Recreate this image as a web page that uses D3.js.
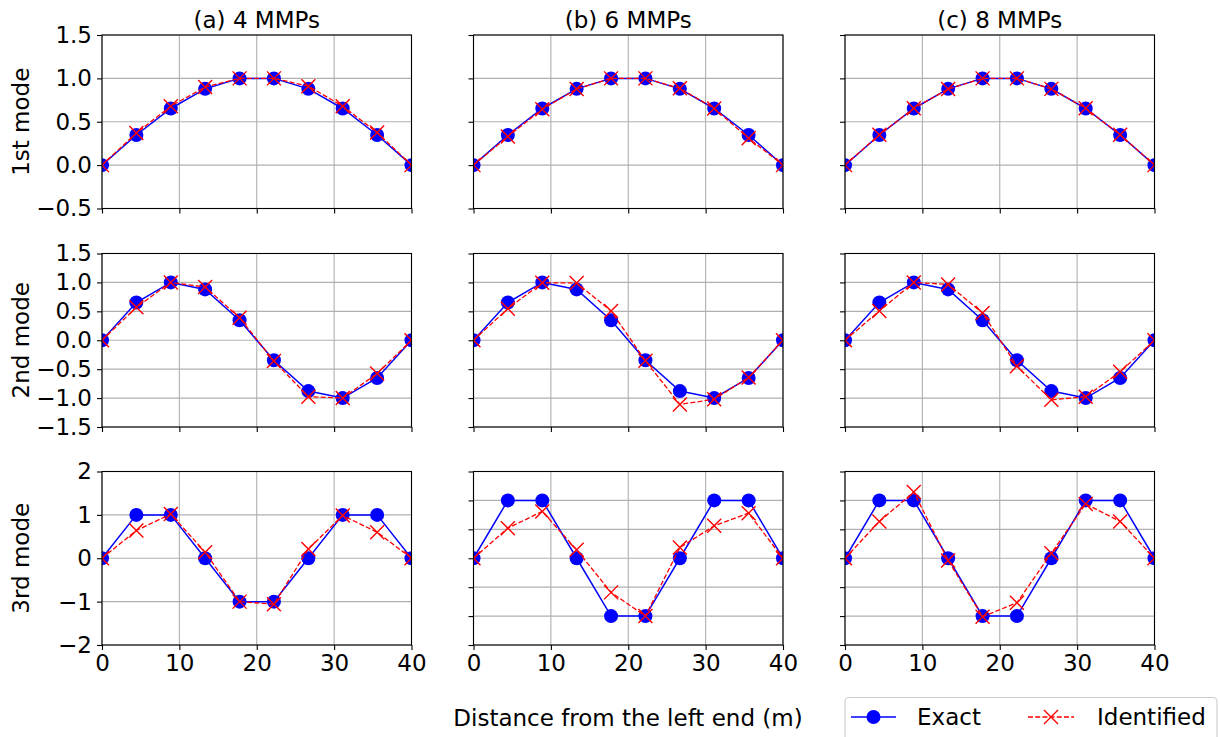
<!DOCTYPE html>
<html>
<head>
<meta charset="utf-8">
<script src="https://cdn.jsdelivr.net/npm/d3@7"></script>
<style>
  body { margin: 0; background: #fff; }
  svg { display: block; font-family: "DejaVu Sans", sans-serif; }
</style>
</head>
<body>
<svg id="chart" width="1220" height="737"></svg>
<script>
// node positions along the beam (m)
const nodeX = [0, 4.44, 8.89, 13.33, 17.78, 22.22, 26.67, 31.11, 35.56, 40];

// exact mode shapes
const exactMode1 = [0, 0.347, 0.653, 0.879, 1.0, 1.0, 0.879, 0.653, 0.347, 0];
const exactMode2 = [0, 0.653, 1.0, 0.879, 0.347, -0.347, -0.879, -1.0, -0.653, 0];
const exactMode3 = [0, 1.0, 1.0, 0, -1.0, -1.0, 0, 1.0, 1.0, 0];

// identified mode shapes, 4 MMPs
const ident4Mode1 = [0, 0.37, 0.68, 0.90, 1.0, 1.0, 0.91, 0.68, 0.375, 0];
const ident4Mode2 = [0, 0.57, 1.0, 0.92, 0.39, -0.36, -0.975, -1.0, -0.575, 0];
const ident4Mode3 = [0, 0.64, 1.02, 0.14, -1.0, -1.06, 0.215, 0.985, 0.6, 0];

// identified mode shapes, 6 MMPs
const ident6Mode1 = [0, 0.33, 0.645, 0.877, 1.0, 1.0, 0.885, 0.654, 0.31, 0];
const ident6Mode2 = [0, 0.546, 0.995, 0.99, 0.506, -0.356, -1.11, -1.02, -0.644, 0];
const ident6Mode3 = [0, 0.52, 0.81, 0.145, -0.59, -1.0, 0.185, 0.56, 0.78, 0];

// identified mode shapes, 8 MMPs
const ident8Mode1 = [0, 0.35, 0.655, 0.877, 1.0, 1.0, 0.879, 0.655, 0.35, 0];
const ident8Mode2 = [0, 0.506, 1.0, 0.966, 0.47, -0.448, -1.03, -0.977, -0.546, 0];
const ident8Mode3 = [0, 0.636, 1.145, -0.04, -1.01, -0.77, 0.087, 0.94, 0.636, 0];

const colTitles = ['(a) 4 MMPs', '(b) 6 MMPs', '(c) 8 MMPs'];
const rowLabels = ['1st mode', '2nd mode', '3rd mode'];
const xTicks = [0, 10, 20, 30, 40];

const exactRows = [exactMode1, exactMode2, exactMode3];
const identGrid = [
    [ident4Mode1, ident6Mode1, ident8Mode1],
    [ident4Mode2, ident6Mode2, ident8Mode2],
    [ident4Mode3, ident6Mode3, ident8Mode3]
];

// y ranges and ticks per panel [row][col]
const yDomains = [
    [[-0.5, 1.5], [-0.5, 1.5], [-0.5, 1.5]],
    [[-1.5, 1.5], [-1.5, 1.5], [-1.5, 1.5]],
    [[-2, 2], [-1.5, 1.5], [-1.5, 1.5]]
];
const yTickSteps = [[0.5, 0.5, 0.5], [0.5, 0.5, 0.5], [1, 0.5, 0.5]];

const colLeft = [102, 473.5, 845];
const rowTop = [35, 253.5, 471.5];
const panelW = 309.5;
const panelH = 173.5;

const FONT = 23;
const svg = d3.select('#chart');
const fmtMinus = s => s.replace('-', '\u2212');

for (let r = 0; r < 3; ++r) {
    for (let c = 0; c < 3; ++c) {
        let g = svg.append('g')
            .attr('transform', 'translate(' + colLeft[c] + ',' + rowTop[r] + ')');

        let x = d3.scaleLinear().domain([0, 40]).range([0, panelW]);
        let dom = yDomains[r][c];
        let y = d3.scaleLinear().domain(dom).range([panelH, 0]);
        let step = yTickSteps[r][c];
        let yTicks = d3.range(dom[0], dom[1] + step / 2, step);

        let clipId = 'clip-' + r + '-' + c;
        g.append('clipPath').attr('id', clipId)
            .append('rect').attr('width', panelW).attr('height', panelH);

        // Grid
        g.selectAll('.gx').data(xTicks).enter().append('line')
            .attr('x1', d => x(d)).attr('x2', d => x(d))
            .attr('y1', 0).attr('y2', panelH)
            .style('stroke', '#b0b0b0').style('stroke-width', 1.1);
        g.selectAll('.gy').data(yTicks).enter().append('line')
            .attr('x1', 0).attr('x2', panelW)
            .attr('y1', d => y(d)).attr('y2', d => y(d))
            .style('stroke', '#b0b0b0').style('stroke-width', 1.1);

        let plot = g.append('g').attr('clip-path', 'url(#' + clipId + ')');
        let line = d3.line().x((d, i) => x(nodeX[i])).y(d => y(d));

        // Exact
        plot.append('path').datum(exactRows[r])
            .attr('d', line)
            .style('fill', 'none').style('stroke', '#0000ff').style('stroke-width', 1.5);
        plot.selectAll('.dots').data(exactRows[r]).enter().append('circle')
            .attr('cx', (d, i) => x(nodeX[i])).attr('cy', d => y(d))
            .attr('r', 7).style('fill', '#0000ff');

        // Identified
        let ident = identGrid[r][c];
        plot.append('path').datum(ident)
            .attr('d', line)
            .style('fill', 'none').style('stroke', '#ff0000').style('stroke-width', 1.3)
            .style('stroke-dasharray', '5,2.2');
        plot.selectAll('.cross').data(ident).enter().append('path')
            .attr('transform', (d, i) => 'translate(' + x(nodeX[i]) + ',' + y(d) + ')')
            .attr('d', 'M-7,-7L7,7M-7,7L7,-7')
            .style('stroke', '#ff0000').style('stroke-width', 1.4);

        // Axes
        let xAxis = d3.axisBottom(x).tickValues(xTicks).tickSize(5).tickSizeOuter(0).tickPadding(5);
        let gx = g.append('g').attr('transform', 'translate(0,' + panelH + ')').call(xAxis);
        let yAxis = d3.axisLeft(y).tickValues(yTicks).tickSize(5).tickSizeOuter(0).tickPadding(5)
            .tickFormat(d => fmtMinus(r === 2 && c === 0 ? d3.format('d')(d) : d3.format('.1f')(d)));
        let gy = g.append('g').call(yAxis);

        [gx, gy].forEach(a => {
            a.select('.domain').remove();
            a.selectAll('.tick line').style('stroke', '#000').style('stroke-width', 1.1);
            a.selectAll('text').style('font-size', FONT + 'px').style('fill', '#000')
                .style('font-family', '"DejaVu Sans", sans-serif');
        });
        if (r < 2) gx.selectAll('text').remove();
        if (c > 0) gy.selectAll('text').remove();

        // Frame
        g.append('rect').attr('width', panelW).attr('height', panelH)
            .style('fill', 'none').style('stroke', '#000').style('stroke-width', 1.1);

        if (r === 0) {
            g.append('text').attr('x', panelW / 2).attr('y', -7)
                .attr('text-anchor', 'middle').style('font-size', FONT + 'px')
                .text(colTitles[c]);
        }
        if (c === 0) {
            g.append('text')
                .attr('transform', 'translate(' + (29 - colLeft[0]) + ',' + (panelH / 2) + ') rotate(-90)')
                .attr('text-anchor', 'middle').style('font-size', FONT + 'px')
                .text(rowLabels[r]);
        }
    }
}

// x label
svg.append('text').attr('x', 628).attr('y', 726)
    .attr('text-anchor', 'middle').style('font-size', FONT + 'px')
    .text('Distance from the left end (m)');

// Legend
let lg = svg.append('g');
lg.append('rect').attr('x', 845).attr('y', 697.5).attr('width', 372).attr('height', 60)
    .attr('rx', 4).style('fill', '#fff').style('stroke', '#cccccc').style('stroke-width', 1.1);
lg.append('line').attr('x1', 851).attr('x2', 896).attr('y1', 717).attr('y2', 717)
    .style('stroke', '#0000ff').style('stroke-width', 1.5);
lg.append('circle').attr('cx', 873.5).attr('cy', 717).attr('r', 7).style('fill', '#0000ff');
lg.append('text').attr('x', 917).attr('y', 725).style('font-size', FONT + 'px').text('Exact');
lg.append('line').attr('x1', 1028).attr('x2', 1074).attr('y1', 717).attr('y2', 717)
    .style('stroke', '#ff0000').style('stroke-width', 1.3).style('stroke-dasharray', '5,2.2');
lg.append('path').attr('transform', 'translate(1051,717)')
    .attr('d', 'M-7,-7L7,7M-7,7L7,-7')
    .style('stroke', '#ff0000').style('stroke-width', 1.4);
lg.append('text').attr('x', 1097).attr('y', 725).style('font-size', FONT + 'px').text('Identified');
</script>
</body>
</html>
